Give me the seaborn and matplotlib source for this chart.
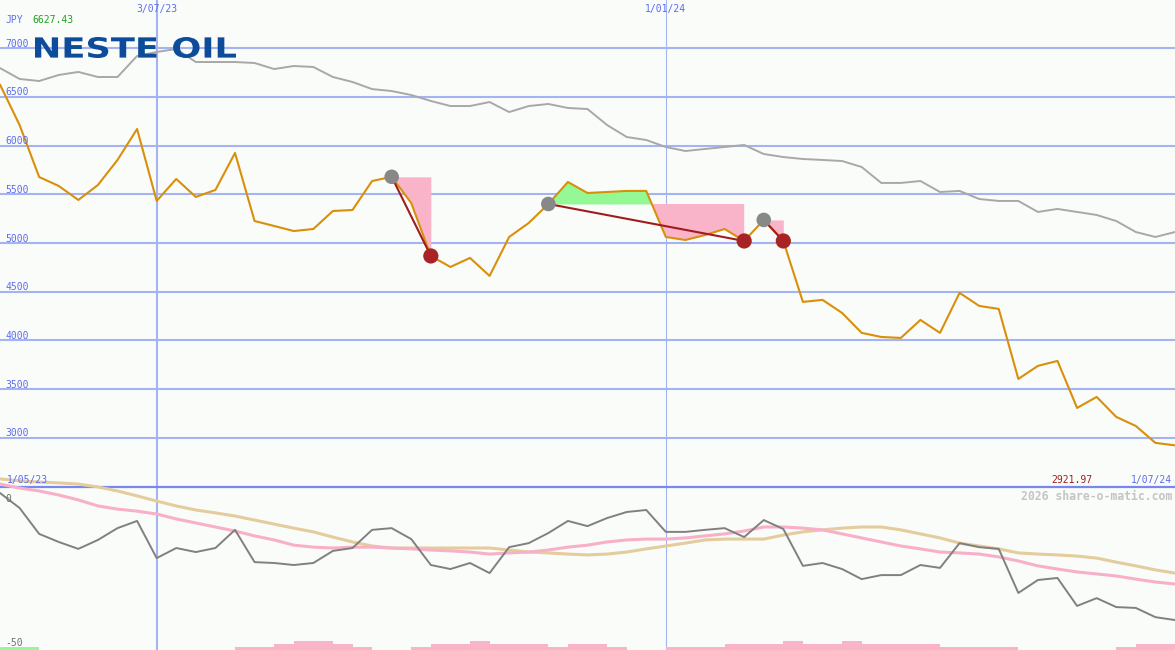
import numpy as np
import pandas as pd
import matplotlib
matplotlib.use("Agg")
import matplotlib.pyplot as plt
import matplotlib.dates as mdates
from matplotlib.textpath import TextPath
from matplotlib.patches import PathPatch
from matplotlib.font_manager import FontProperties
from matplotlib.transforms import Affine2D
import seaborn as sns

### DATA ###
weeks = pd.date_range("2023-05-08", periods=61, freq="7D")
price = [6627.43, 6212, 5678, 5586, 5442, 5596, 5853, 6171, 5432, 5658,
         5473, 5545, 5925, 5226, 5175, 5123, 5144, 5329, 5339, 5637,
         5680, 5411, 4867, 4754, 4847, 4662, 5062, 5206, 5401, 5627,
         5514, 5524, 5535, 5535, 5062, 5031, 5082, 5144, 5021, 5237,
         5021, 4395, 4416, 4282, 4077, 4035, 4025, 4210, 4077, 4488,
         4354, 4323, 3604, 3738, 3789, 3306, 3419, 3214, 3121, 2947,
         2921.97]
price_ma = [6797, 6685, 6664, 6726, 6757, 6705, 6705, 6921, 6962, 6993,
            6859, 6859, 6859, 6849, 6787, 6818, 6808, 6705, 6654, 6581,
            6561, 6520, 6459, 6407, 6407, 6448, 6345, 6407, 6428, 6387,
            6376, 6212, 6089, 6058, 5986, 5945, 5966, 5986, 6007, 5914,
            5883, 5863, 5853, 5842, 5781, 5617, 5617, 5637, 5524, 5535,
            5452, 5432, 5432, 5319, 5350, 5319, 5288, 5226, 5113, 5062,
            5113]
rel_strength = [0, -5.2, -14.2, -17.0, -19.4, -16.3, -12.2, -9.7, -22.6, -19.1,
                -20.5, -19.1, -12.8, -24.0, -24.3, -25.0, -24.3, -20.1, -19.1, -12.8,
                -12.2, -16.0, -25.0, -26.4, -24.3, -27.8, -18.8, -17.4, -13.9, -9.7,
                -11.5, -8.7, -6.6, -5.9, -13.5, -13.5, -12.8, -12.2, -15.3, -9.4,
                -12.5, -25.3, -24.3, -26.4, -29.9, -28.5, -28.5, -25.0, -26.0, -17.4,
                -18.8, -19.4, -34.7, -30.2, -29.5, -39.2, -36.5, -39.6, -39.9, -43.1,
                -44.1]
rs_ma_short = [3.1, 1.7, 0.7, -0.7, -2.4, -4.5, -5.6, -6.3, -7.3, -9.0,
               -10.4, -11.8, -13.2, -14.9, -16.3, -18.1, -18.8, -19.1, -18.8, -18.8,
               -19.1, -19.4, -19.8, -20.1, -20.5, -21.2, -20.8, -20.5, -19.8, -18.8,
               -18.1, -17.0, -16.3, -16.0, -16.0, -15.6, -14.9, -14.2, -13.2, -11.8,
               -11.8, -12.2, -12.8, -14.2, -15.6, -17.0, -18.4, -19.4, -20.5, -20.8,
               -21.2, -22.2, -23.6, -25.3, -26.4, -27.4, -28.1, -28.8, -29.9, -30.9,
               -31.6]
rs_ma_long = [4.9, 4.2, 3.8, 3.5, 3.1, 2.1, 0.7, -1.0, -2.8, -4.5,
              -5.9, -6.9, -8.0, -9.4, -10.8, -12.2, -13.5, -15.3, -17.0, -18.4,
              -19.1, -19.1, -19.1, -19.1, -19.1, -19.1, -19.8, -20.5, -20.8, -21.2,
              -21.5, -21.2, -20.5, -19.4, -18.4, -17.4, -16.3, -16.0, -16.0, -16.0,
              -14.6, -13.5, -12.8, -12.2, -11.8, -11.8, -12.8, -14.2, -15.6, -17.4,
              -18.4, -19.4, -20.8, -21.2, -21.5, -21.9, -22.6, -24.0, -25.3, -26.7,
              -27.8]
sell_bars = [0, 0, 0, 0, 0, 0, 0, 0, 0, 0,
             0, 0, 1, 1, 2, 3, 3, 2, 1, 0,
             0, 1, 2, 2, 3, 2, 2, 2, 1, 2,
             2, 1, 0, 0, 1, 1, 1, 2, 2, 2,
             3, 2, 2, 3, 2, 2, 2, 2, 1, 1,
             1, 1, 0, 0, 0, 0, 0, 1, 2, 2]
buy_bars = [1, 1] + [0] * 58
sig_start = [20, 28, 39]
sig_end = [22, 38, 40]
price_ticks = [3000, 3500, 4000, 4500, 5000, 5500, 6000, 6500, 7000]
rs_ticks = [0, -50]
date_lines = ["2023-07-03", "2024-01-01"]
date_labels = ["3/07/23", "1/01/24"]

### STYLE ###
BG = "#fafcfa"
GRID = "#a4b4f2"
BLUE = "#5c6cf0"
ORANGE = "#d8900a"
W, H = 1175, 650

sns.set_theme(style="white")
plt.rcParams["font.family"] = ["DejaVu Sans Mono", "DejaVu Sans"]

x = mdates.date2num(weeks)
price = np.array(price)

fig = plt.figure(figsize=(W / 100, H / 100), dpi=100, facecolor=BG)
ax_top = fig.add_axes([0, 163 / H, 1, 487 / H], facecolor=BG)
ax_bot = fig.add_axes([0, 0, 1, 163 / H], facecolor=BG)
ax_vol = ax_bot.twinx()

for ax in (ax_top, ax_bot, ax_vol):
    ax.set_xlim(x[0], x[-1])
    ax.set_xticks([])
    ax.set_yticks([])
    for sp in ax.spines.values():
        sp.set_visible(False)
ax_top.set_ylim(2494, 7496)
ax_bot.set_ylim(-54.5, 2.08)
ax_vol.set_ylim(0, 54.3)
ax_bot.spines["top"].set_visible(True)
ax_bot.spines["top"].set_color("#7888ec")
ax_bot.spines["top"].set_linewidth(1.6)

# GRID
for v in price_ticks:
    ax_top.axhline(v, color=GRID, lw=1.5, zorder=1)
for d, lw in zip(date_lines, [1.5, 0.8]):
    dn = mdates.date2num(pd.Timestamp(d))
    ax_top.axvline(dn, color=GRID, lw=lw, zorder=1)
    ax_bot.axvline(dn, color=GRID, lw=lw, zorder=1)

# MAIN PANEL
sns.lineplot(x=x, y=price_ma, ax=ax_top, color="#a8a8a8", lw=1.4, zorder=3)
for s, e in zip(sig_start, sig_end):
    lvl = price[s]
    xs, ys = x[s:e + 1], price[s:e + 1]
    ax_top.fill_between(xs, ys, lvl, where=ys <= lvl, interpolate=True,
                        color="#f9b4ca", lw=0, zorder=2)
    ax_top.fill_between(xs, ys, lvl, where=ys >= lvl, interpolate=True,
                        color="#94f894", lw=0, zorder=2)
sns.lineplot(x=x, y=price, ax=ax_top, color=ORANGE, lw=1.5, zorder=3)
for s, e in zip(sig_start, sig_end):
    ax_top.plot([x[s], x[e]], [price[s], price[e]], color="#a01c1c", lw=1.5, zorder=4)
sns.scatterplot(x=x[sig_start], y=price[sig_start], ax=ax_top, s=110,
                color="#888888", edgecolor="none", zorder=5)
sns.scatterplot(x=x[sig_end], y=price[sig_end], ax=ax_top, s=120,
                color="#a82424", edgecolor="none", zorder=5)

for v in price_ticks:
    ax_top.annotate(f"{v}", xy=(0, v), xycoords=("axes fraction", "data"),
                    xytext=(5, 1.5), textcoords="offset pixels", va="baseline",
                    ha="left", color=BLUE, fontsize=7)

# BOTTOM PANEL
ax_vol.bar(x[:-1], sell_bars, width=7, align="edge", color="#f9b4ca", lw=0)
ax_vol.bar(x[:-1], buy_bars, width=7, align="edge", color="#98f898", lw=0)
sns.lineplot(x=x, y=rs_ma_long, ax=ax_bot, color="#e4cc9c", lw=2.2, zorder=3)
sns.lineplot(x=x, y=rs_ma_short, ax=ax_bot, color="#f8b0c8", lw=2.2, zorder=3)
sns.lineplot(x=x, y=rel_strength, ax=ax_bot, color="#808080", lw=1.4, zorder=3)
for ln in ax_bot.lines:
    ln.set_clip_on(False)
for v in rs_ticks:
    ax_bot.annotate(f"{v}", xy=(0, v), xycoords=("axes fraction", "data"),
                    xytext=(5, -1), textcoords="offset pixels", va="top",
                    ha="left", color="#707070", fontsize=7)

# TEXTS
def px(xp, yp):
    return xp / W, 1 - yp / H

for d, lab in zip(date_lines, date_labels):
    dn = mdates.date2num(pd.Timestamp(d))
    ax_top.annotate(lab, xy=(dn, 1), xycoords=("data", "axes fraction"),
                    xytext=(0, -12), textcoords="offset pixels", va="baseline",
                    ha="center", color=BLUE, fontsize=7)
fig.text(*px(5, 23), "JPY", color=BLUE, fontsize=7, va="baseline")
fig.text(*px(32, 23), f"{price[0]:.2f}", color="#20a020", fontsize=7, va="baseline")
fig.text(*px(7, 483), "1/05/23", color=BLUE, fontsize=7, va="baseline")
fig.text(*px(1092, 483), f"{price[-1]:.2f}", color="#a02020", fontsize=7,
         va="baseline", ha="right")
fig.text(*px(1172, 483), "1/07/24", color=BLUE, fontsize=7, va="baseline", ha="right")
fig.text(*px(1172, 500), "2026 share-o-matic.com", color="#c4c4c4", fontsize=8.3,
         fontweight="bold", va="baseline", ha="right")

# LOGO
tp = TextPath((0, 0), "NESTE OIL", size=20,
              prop=FontProperties(family="DejaVu Sans", weight="bold"))
bb = tp.get_extents()
tr = (Affine2D().translate(-bb.x0, -bb.y0)
      .scale(201 / bb.width, 21 / bb.height).translate(35, H - 58))
fig.add_artist(PathPatch(tp, transform=tr, color="#0c4c9a", lw=0, zorder=10))

fig.savefig("out.png", dpi=100, facecolor=BG)
